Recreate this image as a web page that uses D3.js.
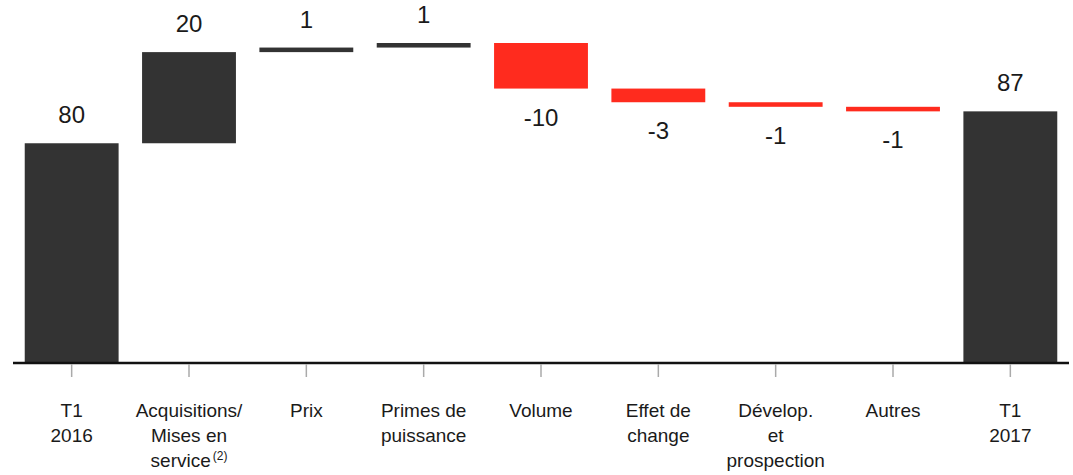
<!DOCTYPE html>
<html>
<head>
<meta charset="utf-8">
<script src="https://cdn.jsdelivr.net/npm/d3@7"></script>
<style>
  body { margin: 0; background: #fff; }
  text { font-family: "Liberation Sans", Arial, sans-serif; fill: #1a1a1a; }
</style>
</head>
<body>
<div id="chart"></div>
<script>
// categories (one array entry per line of the label)
const categories = [
  ["T1", "2016"],
  ["Acquisitions/", "Mises en", "service"],
  ["Prix"],
  ["Primes de", "puissance"],
  ["Volume"],
  ["Effet de", "change"],
  ["Dévelop.", "et", "prospection"],
  ["Autres"],
  ["T1", "2017"]
];
const footnotes = [null, "(2)", null, null, null, null, null, null, null];
const values = [80, 20, 1, 1, -10, -3, -1, -1, 87];
const isTotal = [true, false, false, false, false, false, false, false, true];

const W = 1073, H = 475;
const colorTotal = "#333333", colorUp = "#333333", colorDown = "#ff2b1e";

// build waterfall table
let running = 0;
const rows = values.map(function (v, i) {
  let start, end;
  if (isTotal[i]) { start = 0; end = v; running = v; }
  else { start = running; end = running + v; running = end; }
  return {i: i, value: v, start: start, end: end, total: isTotal[i]};
});

const svg = d3.select("#chart").append("svg")
  .attr("width", W)
  .attr("height", H);

const x = d3.scaleBand()
  .domain(d3.range(values.length))
  .range([13, 1069])
  .paddingInner(0.2)
  .paddingOuter(0.1);

// axis does not start at zero in the original
const y = d3.scaleLinear()
  .domain([32, 102])
  .range([362, 43]);

// bars
svg.append("g").selectAll("rect")
  .data(rows)
  .enter().append("rect")
  .attr("x", d => x(d.i))
  .attr("width", x.bandwidth())
  .attr("y", d => y(d.total ? d.end : Math.max(d.start, d.end)))
  .attr("height", d => d.total ? y.range()[0] - y(d.end) : Math.abs(y(d.start) - y(d.end)))
  .attr("fill", d => d.total ? colorTotal : (d.value >= 0 ? colorUp : colorDown));

// value labels
svg.append("g").selectAll("text")
  .data(rows)
  .enter().append("text")
  .attr("x", d => x(d.i) + x.bandwidth() / 2)
  .attr("y", d => d.value >= 0 ? y(Math.max(d.start, d.end)) - 20 : y(Math.min(d.start, d.end)) + 37)
  .attr("text-anchor", "middle")
  .style("font-size", "24px")
  .text(d => d.value);

// x axis
const axis = svg.append("g");
axis.append("line")
  .attr("x1", x.range()[0]).attr("x2", x.range()[1])
  .attr("y1", y.range()[0] + 1).attr("y2", y.range()[0] + 1)
  .attr("stroke", "#111").attr("stroke-width", 2.5);

axis.selectAll(".tick")
  .data(d3.range(values.length))
  .enter().append("line")
  .attr("class", "tick")
  .attr("x1", i => x(i) + x.bandwidth() / 2)
  .attr("x2", i => x(i) + x.bandwidth() / 2)
  .attr("y1", y.range()[0] + 2)
  .attr("y2", y.range()[0] + 15)
  .attr("stroke", "#aaa").attr("stroke-width", 1.5);

// category labels, several lines each
const labels = axis.selectAll(".cat")
  .data(categories)
  .enter().append("text")
  .attr("class", "cat")
  .attr("text-anchor", "middle")
  .style("font-size", "19px")
  .attr("transform", (d, i) => "translate(" + (x(i) + x.bandwidth() / 2) + "," + (y.range()[0] + 55) + ")");

labels.each(function (lines, i) {
  const t = d3.select(this);
  lines.forEach(function (line, j) {
    t.append("tspan").attr("x", 0).attr("y", j * 25).text(line);
    if (j === lines.length - 1 && footnotes[i]) {
      t.append("tspan").attr("dx", 2).attr("dy", -7).style("font-size", "12px").text(footnotes[i]);
    }
  });
});
</script>
</body>
</html>
